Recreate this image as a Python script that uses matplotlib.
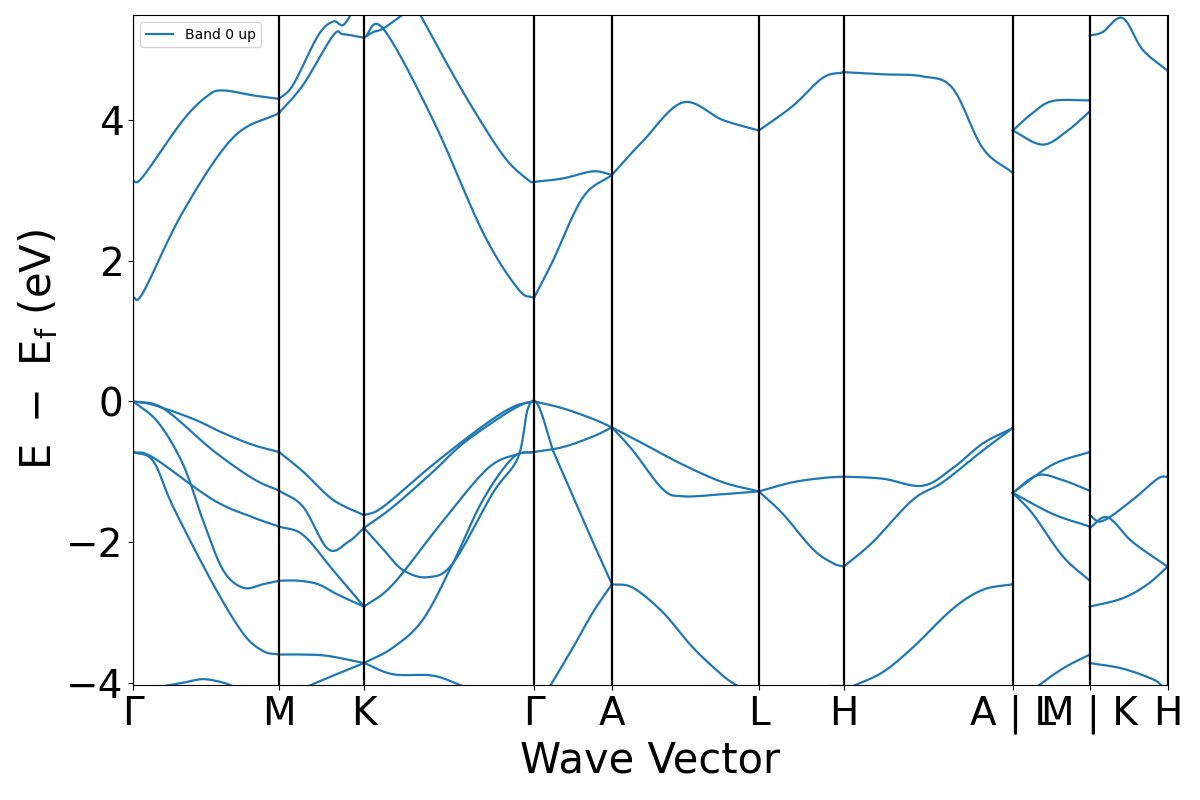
import numpy as np
import matplotlib
matplotlib.use("Agg")
import matplotlib.pyplot as plt

kpos = [0, 1.46, 2.31, 4.01, 4.79, 6.26, 7.11, 8.80, 9.57, 10.35]
klabels = ["Γ", "M", "K", "Γ", "A", "L", "H", "A | L", "M | K", "H"]

# band segments: (x list, y list)
seg_G_M = [
    ([0, 0.1, 0.5, 1.0, 1.46], [1.47, 1.55, 2.7, 3.75, 4.1]),
    ([0, 0.1, 0.5, 0.75, 0.9, 1.2, 1.46], [3.12, 3.2, 4.0, 4.35, 4.42, 4.35, 4.3]),
    ([0, 0.2, 0.6, 0.9, 1.2, 1.46], [0.0, -0.05, -0.25, -0.45, -0.62, -0.72]),
    ([0, 0.3, 0.8, 1.2, 1.46], [0.0, -0.1, -0.7, -1.1, -1.27]),
    ([0, 0.2, 0.8, 1.2, 1.46], [-0.72, -0.8, -1.4, -1.65, -1.78]),
    ([0, 0.25, 0.5, 0.7, 0.9, 1.1, 1.3, 1.46], [0.0, -0.3, -0.9, -1.7, -2.4, -2.65, -2.6, -2.55]),
    ([0, 0.2, 0.4, 0.8, 1.1, 1.3, 1.46], [-0.72, -0.85, -1.5, -2.6, -3.3, -3.55, -3.6]),
    ([0.3, 0.5, 0.7, 0.9, 1.05], [-4.05, -4.0, -3.95, -4.0, -4.08]),
]
seg_M_K = [
    ([1.46, 1.7, 2.0, 2.1, 2.31], [4.1, 4.5, 5.2, 5.22, 5.17]),
    ([1.46, 1.6, 1.85, 2.0, 2.1, 2.2], [4.3, 4.5, 5.2, 5.4, 5.35, 5.55]),
    ([1.46, 1.7, 2.0, 2.31], [-0.72, -1.0, -1.4, -1.62]),
    ([1.46, 1.7, 1.95, 2.15, 2.31], [-1.27, -1.5, -2.1, -2.0, -1.8]),
    ([1.46, 1.7, 2.0, 2.31], [-1.78, -1.9, -2.4, -2.92]),
    ([1.46, 1.65, 1.85, 2.05, 2.31], [-2.55, -2.55, -2.6, -2.75, -2.92]),
    ([1.46, 1.7, 1.95, 2.31], [-3.6, -3.6, -3.62, -3.72]),
    ([1.75, 2.0, 2.31], [-4.05, -3.9, -3.72]),
]
seg_K_G = [
    ([2.31, 2.4, 2.5, 2.7], [5.17, 5.25, 5.3, 5.5]),
    ([2.31, 2.5, 3.0, 3.5, 3.85, 4.01], [5.17, 5.3, 4.0, 2.4, 1.6, 1.47]),
    ([2.87, 3.3, 3.7, 3.95, 4.01], [5.5, 4.4, 3.5, 3.15, 3.12]),
    ([2.31, 2.5, 3.0, 3.5, 3.8, 4.01], [-1.62, -1.5, -0.9, -0.35, -0.08, 0.0]),
    ([2.31, 2.6, 3.0, 3.3, 3.7, 3.9, 4.01], [-1.8, -1.5, -1.0, -0.6, -0.2, -0.04, 0.0]),
    ([2.31, 2.5, 2.7, 2.95, 3.2, 3.6, 3.85, 3.95, 4.05, 4.2],
     [-1.8, -2.1, -2.4, -2.5, -2.3, -1.3, -0.8, -0.1, -0.05, -0.7]),
    ([2.31, 2.6, 3.1, 3.55, 3.85, 4.01], [-2.92, -2.6, -1.7, -0.95, -0.75, -0.72]),
    ([2.31, 2.6, 2.9, 3.2, 3.5, 3.8, 4.01], [-3.72, -3.5, -3.1, -2.3, -1.4, -0.8, -0.72]),
    ([2.31, 2.6, 3.0, 3.3], [-3.72, -3.88, -3.9, -4.05]),
]
seg_G_A = [
    ([4.01, 4.2, 4.5, 4.79], [1.47, 2.0, 2.9, 3.22]),
    ([4.01, 4.3, 4.6, 4.79], [3.12, 3.17, 3.27, 3.22]),
    ([4.01, 4.3, 4.6, 4.79], [0.0, -0.1, -0.25, -0.37]),
    ([4.01, 4.3, 4.6, 4.79], [-0.72, -0.65, -0.5, -0.37]),
    ([4.2, 4.4, 4.6, 4.79], [-0.7, -1.35, -2.0, -2.6]),
    ([4.15, 4.4, 4.6, 4.79], [-4.1, -3.5, -3.0, -2.6]),
]
seg_A_L = [
    ([4.79, 5.1, 5.5, 5.9, 6.26], [3.22, 3.7, 4.25, 4.0, 3.85]),
    ([4.79, 5.0, 5.3, 5.5, 5.9, 6.26], [-0.37, -0.7, -1.25, -1.35, -1.32, -1.28]),
    ([4.79, 5.1, 5.5, 5.9, 6.26], [-0.37, -0.6, -0.9, -1.15, -1.28]),
    ([4.79, 5.0, 5.3, 5.6, 5.9, 6.05], [-2.6, -2.65, -3.0, -3.5, -3.9, -4.05]),
]
seg_L_H = [
    ([6.26, 6.6, 6.9, 7.11], [3.85, 4.2, 4.6, 4.68]),
    ([6.26, 6.6, 6.9, 7.11], [-1.28, -1.15, -1.09, -1.07]),
    ([6.26, 6.5, 6.8, 7.0, 7.11], [-1.28, -1.6, -2.1, -2.3, -2.35]),
    ([6.95, 7.11], [-4.05, -4.05]),
]
seg_H_A = [
    ([7.11, 7.5, 7.9, 8.2, 8.5, 8.8], [4.68, 4.65, 4.62, 4.45, 3.6, 3.25]),
    ([7.11, 7.5, 7.9, 8.2, 8.5, 8.8], [-1.07, -1.1, -1.2, -0.95, -0.6, -0.38]),
    ([7.11, 7.4, 7.8, 8.1, 8.5, 8.8], [-2.35, -2.0, -1.4, -1.15, -0.7, -0.38]),
    ([7.2, 7.5, 7.8, 8.2, 8.5, 8.8], [-4.05, -3.85, -3.5, -2.95, -2.68, -2.6]),
]
seg_L_M = [
    ([8.8, 9.0, 9.2, 9.57], [3.85, 4.1, 4.27, 4.28]),
    ([8.8, 9.1, 9.35, 9.57], [3.85, 3.65, 3.85, 4.12]),
    ([8.8, 9.05, 9.3, 9.57], [-1.3, -1.05, -1.12, -1.27]),
    ([8.8, 9.2, 9.57], [-1.3, -0.9, -0.72]),
    ([8.8, 9.2, 9.57], [-1.3, -1.6, -1.78]),
    ([8.8, 9.0, 9.3, 9.57], [-1.3, -1.6, -2.2, -2.55]),
    ([9.0, 9.3, 9.57], [-4.1, -3.8, -3.6]),
]
seg_K_H = [
    ([9.57, 9.7, 9.9, 10.1, 10.35], [5.2, 5.25, 5.45, 5.0, 4.7]),
    ([9.57, 9.7, 10.0, 10.25, 10.35], [-1.62, -1.7, -1.4, -1.1, -1.07]),
    ([9.57, 9.75, 10.0, 10.35], [-1.8, -1.65, -2.0, -2.35]),
    ([9.57, 9.9, 10.15, 10.35], [-2.92, -2.8, -2.6, -2.35]),
    ([9.57, 9.9, 10.2, 10.3], [-3.72, -3.8, -3.95, -4.05]),
]
all_segments = seg_G_M + seg_M_K + seg_K_G + seg_G_A + seg_A_L + seg_L_H + seg_H_A + seg_L_M + seg_K_H


def smooth(x, y, n=20):
    x = np.asarray(x, float); y = np.asarray(y, float)
    xs, ys = [], []
    for i in range(len(x) - 1):
        p0 = (x[i-1], y[i-1]) if i > 0 else (2*x[0]-x[1], 2*y[0]-y[1])
        p1 = (x[i], y[i]); p2 = (x[i+1], y[i+1])
        p3 = (x[i+2], y[i+2]) if i + 2 < len(x) else (2*x[-1]-x[-2], 2*y[-1]-y[-2])
        t = np.linspace(0, 1, n, endpoint=False)
        for k, arr in ((0, xs), (1, ys)):
            a0, a1, a2, a3 = p0[k], p1[k], p2[k], p3[k]
            arr.extend(0.5*((2*a1) + (-a0+a2)*t + (2*a0-5*a1+4*a2-a3)*t**2 + (-a0+3*a1-3*a2+a3)*t**3))
    xs.append(x[-1]); ys.append(y[-1])
    xs = np.clip(xs, x.min(), x.max())
    return xs, ys


fig = plt.figure(figsize=(12, 8), dpi=100)
ax = fig.add_axes([0.111, 0.144, 0.862, 0.837])
for i, (sx, sy) in enumerate(all_segments):
    xx, yy = smooth(sx, sy)
    ax.plot(xx, yy, color="tab:blue", lw=1.6, label="Band 0 up" if i == 0 else None)
for k in kpos:
    ax.axvline(k, color="black", lw=1.6)
ax.set_xlim(kpos[0], kpos[-1])
ax.set_ylim(-4.03, 5.49)
ax.set_yticks([-4, -2, 0, 2, 4])
ax.set_xticks(kpos)
ax.set_xticklabels(klabels)
ax.tick_params(labelsize=28)
ax.set_xlabel("Wave Vector", fontsize=30)
ax.set_ylabel(r"$\mathrm{E\ -\ E_f}$ (eV)", fontsize=30)
ax.legend(loc="upper left", fontsize=10)
fig.savefig("out.png")
